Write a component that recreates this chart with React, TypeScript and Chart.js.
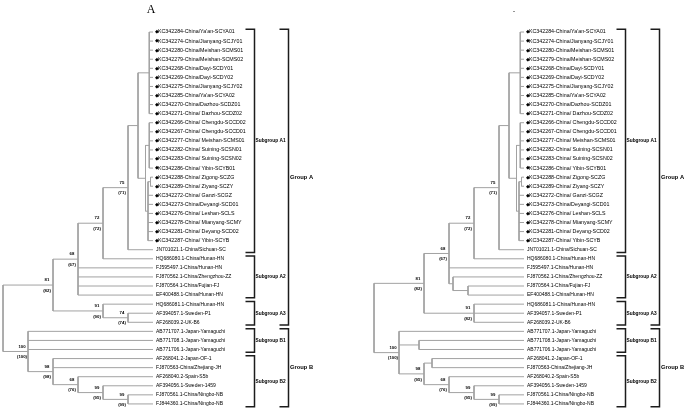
import React, { useEffect, useRef } from 'react';
import { Chart, registerables } from 'chart.js';

Chart.register(...registerables);

// ---------- DATA ----------
const leafLabels = [
  'KC342284-China/Ya\'an-SCYA01',
  'KC342274-China/Jianyang-SCJY01',
  'KC342280-China/Meishan-SCMS01',
  'KC342279-China/Meishan-SCMS02',
  'KC342268-China/Dayi-SCDY01',
  'KC342269-China/Dayi-SCDY02',
  'KC342275-China/Jianyang-SCJY02',
  'KC342285-China/Ya\'an-SCYA02',
  'KC342270-China/Dazhou-SCDZ01',
  'KC342271-China/ Dazhou-SCDZ02',
  'KC342266-China/ Chengdu-SCCD02',
  'KC342267-China/ Chengdu-SCCD01',
  'KC342277-China/ Meishan-SCMS01',
  'KC342282-China/ Suining-SCSN01',
  'KC342283-China/ Suining-SCSN02',
  'KC342286-China/ Yibin-SCYB01',
  'KC342288-China/ Zigong-SCZG',
  'KC342289-China/ Ziyang-SCZY',
  'KC342272-China/ Ganzi-SCGZ',
  'KC342273-China/Deyangi-SCD01',
  'KC342276-China/ Leshan-SCLS',
  'KC342278-China/ Mianyang-SCMY',
  'KC342281-China/ Deyang-SCD02',
  'KC342287-China/ Yibin-SCYB',
  'JN701021.1-China/Sichuan-SC',
  'HQ686080.1-China/Hunan-HN',
  'FJ595497.1-China/Hunan-HN',
  'FJ870562.1-China/Zhengzhou-ZZ',
  'FJ870564.1-China/Fujian-FJ',
  'EF400488.1-China/Hunan-HN',
  'HQ686081.1-China/Hunan-HN',
  'AF394057.1-Sweden-P1',
  'AF268039.2-UK-B6',
  'AB771707.1-Japan-Yamaguchi',
  'AB771708.1-Japan-Yamaguchi',
  'AB771706.1-Japan-Yamaguchi',
  'AF268041.2-Japan-OF-1',
  'FJ870563-China/Zhejiang-JH',
  'AF268040.2-Spain-S5b',
  'AF394056.1-Sweden-1459',
  'FJ870561.1-China/Ningbo-NB',
  'FJ844360.1-China/Ningbo-NB',
];

// subgroups / groups: [label, first leaf, last leaf]
const subgroups: [string, number, number][] = [
  ['Subgroup A1', 0, 24],
  ['Subgroup A2', 25, 29],
  ['Subgroup A3', 30, 32],
  ['Subgroup B1', 33, 35],
  ['Subgroup B2', 36, 41],
];
const groups: [string, number, number][] = [
  ['Group A', 0, 32],
  ['Group B', 33, 41],
];

type TNode = { d: number; s: string[] | null; c: Array<TNode | number> };
const node = (d: number, s: string[] | null, c: Array<TNode | number>): TNode => ({ d, s, c });

// shared Sichuan clade (node depth = cladogram level)
const a1Cluster1 = node(5.85, null, [0, 1, 2, 3, 4, 5, 6, 7, 8, 9]);
const a1Cluster2 = node(5.85, null, [10, 11, 12, 13, 14, 15]);
const a1Cluster3a = node(5.9, null, [16, 17]);
const a1Cluster3 = node(5.8, null, [a1Cluster3a, 18, 19, 20, 21, 22, 23]);
const a1Rest = node(5.7, null, [a1Cluster2, a1Cluster3]);
const a1Clade = node(5.4, null, [a1Cluster1, a1Rest]);

// left tree
const L_n75 = node(5, ['75', '(71)'], [a1Clade, 24]);
const L_n72 = node(4, ['72', '(72)'], [L_n75, 25]);
const L_n68 = node(3, ['68', '(67)'], [L_n72, 26, 27, 28, 29]);
const L_n74 = node(5, ['74', '(74)'], [31, 32]);
const L_A3 = node(4, ['91', '(90)'], [30, L_n74]);
const L_A = node(2, ['81', '(82)'], [L_n68, L_A3]);
const L_n99b = node(5, ['99', '(99)'], [40, 41]);
const L_n99a = node(4, ['99', '(95)'], [39, L_n99b]);
const L_n68b = node(3, ['68', '(76)'], [38, L_n99a]);
const L_B2 = node(2, ['98', '(98)'], [36, 37, L_n68b]);
const L_B = node(1, ['100', '(100)'], [33, 34, 35, L_B2]);
const leftTree = node(0, null, [L_A, L_B]);

// right tree
const R_n75 = node(5, ['75', '(71)'], [a1Clade, 24]);
const R_n72 = node(4, ['72', '(72)'], [R_n75, 25]);
const R_s2 = node(3.76, null, [28, 29]);
const R_s1 = node(3.16, null, [27, R_s2]);
const R_n68 = node(3, ['68', '(67)'], [R_n72, 26, R_s1]);
const R_A3 = node(4, ['91', '(82)'], [30, 31, 32]);
const R_A = node(2, ['81', '(82)'], [R_n68, R_A3]);
const R_n99b = node(5, ['99', '(99)'], [40, 41]);
const R_n99a = node(4, ['99', '(95)'], [39, R_n99b]);
const R_n68b = node(3, ['68', '(76)'], [38, R_n99a]);
const R_B2a = node(2.32, null, [36, 37]);
const R_B2 = node(2, ['98', '(95)'], [R_B2a, R_n68b]);
const R_B1 = node(1.8, null, [34, 35]);
const R_B = node(1, ['100', '(100)'], [33, R_B1, R_B2]);
const rightTree = node(0, null, [R_A, R_B]);

// ---------- LAYOUT CONSTANTS ----------
const TIP = 6;
const SUB_X = 10.06;
const GROUP_X = 11.42;
const TICK = 0.36;
const W = 343;
const H = 411;
const UNIT = 25;
const Y_MIN = -3.53;
const Y_MAX = 41.78;
const SANS = '"Liberation Sans", Arial, sans-serif';

type Pt = { x: number; y: number };

function layoutTree(root: TNode) {
  const pts: Pt[] = [];
  const sup: { x: number; y: number; s: string[] }[] = [];
  const seg = (x1: number, y1: number, x2: number, y2: number) => {
    pts.push({ x: x1, y: y1 }, { x: x2, y: y2 }, { x: NaN, y: NaN });
  };
  const walk = (n: TNode | number, px: number | null): number => {
    if (typeof n === 'number') {
      if (px !== null) seg(px, n, TIP, n);
      return n;
    }
    const ys = n.c.map((c) => walk(c, n.d));
    const y = (ys[0] + ys[ys.length - 1]) / 2;
    seg(n.d, ys[0], n.d, ys[ys.length - 1]);
    if (px !== null) seg(px, y, n.d, y);
    if (n.s) sup.push({ x: n.d, y, s: n.s });
    return y;
  };
  walk(root, null);
  return { pts, sup };
}

function bracketPoints() {
  const pts: Pt[] = [];
  const add = (bx: number, a: number, b: number) => {
    const top = a - 0.3;
    const bot = b + 0.3;
    pts.push({ x: bx - TICK, y: top }, { x: bx, y: top }, { x: bx, y: bot }, { x: bx - TICK, y: bot }, { x: NaN, y: NaN });
  };
  subgroups.forEach(([, a, b]) => add(SUB_X, a, b));
  groups.forEach(([, a, b]) => add(GROUP_X, a, b));
  return pts;
}

type Extra = { text: string; x: number; y: number; font: string };

function TreeChart({ tree, rootPx, extra }: { tree: TNode; rootPx: number; extra: Extra }) {
  const ref = useRef<HTMLCanvasElement>(null);
  useEffect(() => {
    const { pts, sup } = layoutTree(tree);
    const xMin = -rootPx / UNIT;
    const xMax = xMin + W / UNIT;
    const textPlugin = {
      id: 'treeText',
      afterDatasetsDraw(chart: any) {
        const ctx = chart.ctx as CanvasRenderingContext2D;
        const xs = chart.scales.x;
        const ys = chart.scales.y;
        ctx.save();
        ctx.fillStyle = '#000';
        ctx.textBaseline = 'middle';
        // leaf labels
        leafLabels.forEach((lab, i) => {
          const px = xs.getPixelForValue(TIP) + 1.5;
          const py = ys.getPixelForValue(i);
          ctx.textAlign = 'left';
          if (lab.startsWith('KC')) {
            ctx.font = `5px ${SANS}`;
            ctx.fillText('\u25C6', px, py);
            ctx.font = `5.3px ${SANS}`;
            ctx.fillText(lab, px + 3.5, py);
          } else {
            ctx.font = `5px ${SANS}`;
            ctx.fillText(lab, px + 1.5, py);
          }
        });
        // bootstrap values
        ctx.font = `bold 4.3px ${SANS}`;
        ctx.textAlign = 'center';
        sup.forEach((p) => {
          const px = xs.getPixelForValue(p.x) - 6;
          const py = ys.getPixelForValue(p.y);
          ctx.fillText(p.s[0], px, py - 5);
          ctx.fillText(p.s[1], px, py + 5.5);
        });
        // subgroup labels
        ctx.textAlign = 'left';
        ctx.font = `bold 4.8px ${SANS}`;
        subgroups.forEach(([lab, a, b]) => {
          const px = xs.getPixelForValue(SUB_X) + 1;
          const py = ys.getPixelForValue((a + b) / 2);
          ctx.fillText(lab, px, py);
        });
        ctx.font = `bold 5.8px ${SANS}`;
        groups.forEach(([lab, a, b]) => {
          const px = xs.getPixelForValue(GROUP_X) + 1.5;
          const py = ys.getPixelForValue((a + b) / 2);
          ctx.fillText(lab, px, py);
        });
        // panel mark
        ctx.font = extra.font;
        ctx.textAlign = 'center';
        ctx.fillText(extra.text, extra.x, extra.y);
        ctx.restore();
      },
    };
    const chart = new Chart(ref.current!, {
      type: 'scatter',
      data: {
        datasets: [
          {
            data: pts,
            showLine: true,
            borderColor: '#a2a2a2',
            borderWidth: 1,
            pointRadius: 0,
            spanGaps: false,
          } as any,
          {
            data: bracketPoints(),
            showLine: true,
            borderColor: '#1c1c1c',
            borderWidth: 1.5,
            pointRadius: 0,
            spanGaps: false,
          } as any,
        ],
      },
      options: {
        animation: false,
        responsive: false,
        maintainAspectRatio: false,
        devicePixelRatio: 1,
        events: [],
        layout: { padding: 0 },
        plugins: { legend: { display: false }, tooltip: { enabled: false } },
        scales: {
          x: { type: 'linear', display: false, min: xMin, max: xMax },
          y: { type: 'linear', display: false, reverse: true, min: Y_MIN, max: Y_MAX },
        },
      },
      plugins: [textPlugin],
    });
    return () => chart.destroy();
  }, []);
  return <canvas ref={ref} width={W} height={H} style={{ width: W, height: H, display: 'block' }} />;
}

export default function App() {
  return (
    <div style={{ position: 'fixed', left: 0, top: 0, width: 686, height: 411, display: 'flex', background: '#fff' }}>
      <TreeChart tree={leftTree} rootPx={3} extra={{ text: 'A', x: 151, y: 9.5, font: '12px "Liberation Serif", serif' }} />
      <TreeChart tree={rightTree} rootPx={31} extra={{ text: '.', x: 171, y: 10, font: '9px "Liberation Sans", sans-serif' }} />
    </div>
  );
}
